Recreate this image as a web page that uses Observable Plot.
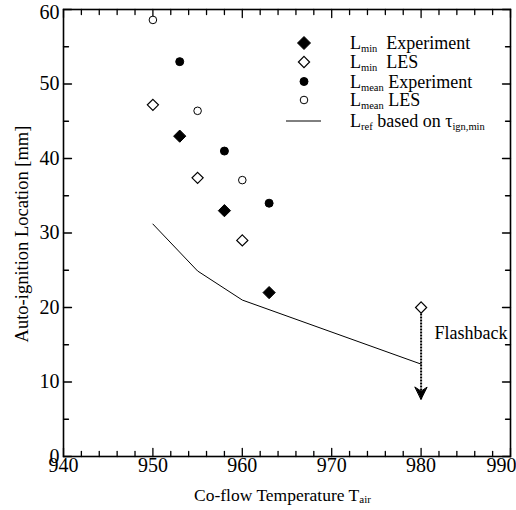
<!DOCTYPE html>
<html><head><meta charset="utf-8">
<script src="https://cdn.jsdelivr.net/npm/d3@7"></script>
<script src="https://cdn.jsdelivr.net/npm/@observablehq/plot@0.6"></script>
<style>
body{margin:0;background:#fff;}
#chart{position:relative;width:516px;height:510px;}
</style></head><body><div id="chart"></div>
<script>
// ---- data ----
const lminExpT = [953, 958, 963];
const lminExpL = [43, 33, 22];
const lminLesT = [950, 955, 960, 980];
const lminLesL = [47.2, 37.4, 29.0, 20.0];
const lmeanExpT = [953, 958, 963];
const lmeanExpL = [53.0, 41.0, 34.0];
const lmeanLesT = [950, 955, 960];
const lmeanLesL = [58.6, 46.4, 37.1];
const lrefT = [950, 955, 960, 980];
const lrefL = [31.2, 24.9, 21.0, 12.4];
const flashT = [980];
const flashFrom = [20.0];
const flashTo = [7.7];
const flashLabel = ["Flashback"];
const flashLabelT = [981.5];
const flashLabelL = [16.6];
const xTicks = [940, 950, 960, 970, 980, 990];
const yTicks = [0, 10, 20, 30, 40, 50, 60];
const xMinor = [942,944,946,948,952,954,956,958,962,964,966,968,972,974,976,978,982,984,986,988];
const yMinor = [5, 15, 25, 35, 45, 55];

const zip = (xs, ys) => xs.map((x, i) => ({x, y: ys[i]}));
const serif = "'Times New Roman', 'Liberation Serif', Times, serif";
const tickShape = {draw(ctx, l) { ctx.moveTo(0, 0); ctx.lineTo(0, -l); }};
const headShape = {draw(ctx, l) { ctx.moveTo(0, -l); ctx.lineTo(-6, 0); ctx.lineTo(0, -4); ctx.lineTo(6, 0); ctx.closePath(); }};
const flash = flashT.map((x, i) => ({x, y1: flashFrom[i], y2: flashTo[i]}));

function ticks(vals, anchor, rotate, len) {
  const ch = (anchor === "bottom" || anchor === "top") ? {x: d => d} : {y: d => d};
  return Plot.vector(vals, {...ch, frameAnchor: anchor, rotate, length: len, anchor: "start", shape: tickShape, stroke: "#000", strokeWidth: 1.3});
}

const plot = Plot.plot({
  width: 516, height: 510,
  marginLeft: 63, marginRight: 6, marginTop: 9, marginBottom: 54,
  style: {fontFamily: serif, fontSize: "20px", color: "#000", background: "#fff", overflow: "visible"},
  x: {domain: [940, 990]},
  y: {domain: [0, 60]},
  marks: [
    Plot.axisX({ticks: xTicks.slice(0, -1), tickSize: 0, tickPadding: 1, label: null, fontSize: 20}),
    Plot.axisX({ticks: xTicks.slice(-1), tickSize: 0, tickPadding: 1, label: null, fontSize: 20, dx: -9}),
    Plot.axisY({ticks: yTicks.slice(0, -1), tickSize: 0, tickPadding: 4, label: null, fontSize: 20}),
    Plot.axisY({ticks: yTicks.slice(-1), tickSize: 0, tickPadding: 4, label: null, fontSize: 20, dy: 3}),
    ticks(xTicks, "bottom", 0, 8), ticks(xMinor, "bottom", 0, 5),
    ticks(xTicks, "top", 180, 8), ticks(xMinor, "top", 180, 5),
    ticks(yTicks, "left", 90, 8), ticks(yMinor, "left", 90, 5),
    ticks(yTicks, "right", 270, 8), ticks(yMinor, "right", 270, 5),
    Plot.line(zip(lrefT, lrefL), {x: "x", y: "y", stroke: "#000", strokeWidth: 1}),
    Plot.link(flash, {x1: "x", x2: "x", y1: "y1", y2: "y2", stroke: "#000", strokeWidth: 2, strokeDasharray: "2,1"}),
    Plot.vector(flash, {x: "x", y: "y2", rotate: 180, length: 12, anchor: "end", shape: headShape, fill: "#000", stroke: "#000", strokeWidth: 1}),
    Plot.dot(zip(lminExpT, lminExpL), {x: "x", y: "y", symbol: "diamond2", r: 5.5, fill: "#000", stroke: "#000", strokeWidth: 1}),
    Plot.dot(zip(lminLesT, lminLesL), {x: "x", y: "y", symbol: "diamond2", r: 5, fill: "#fff", stroke: "#000", strokeWidth: 1.2}),
    Plot.dot(zip(lmeanExpT, lmeanExpL), {x: "x", y: "y", symbol: "circle", r: 4, fill: "#000", stroke: "#000", strokeWidth: 1}),
    Plot.dot(zip(lmeanLesT, lmeanLesL), {x: "x", y: "y", symbol: "circle", r: 3.8, fill: "#fff", stroke: "#000", strokeWidth: 1}),
    Plot.text(flashLabel, {x: flashLabelT, y: flashLabelL, text: d => d, textAnchor: "start", fontSize: 18, fill: "#000"}),
    Plot.frame({stroke: "#000", strokeWidth: 1.6})
  ]
});
document.getElementById("chart").appendChild(plot);

// ---- legend and axis titles (SVG text with subscripts) ----
const svg = d3.select(plot);
const g = svg.append("g").attr("font-family", serif).attr("fill", "#000").attr("text-anchor", "start");
const legend = [
  {sym: "diamond", fill: "#000", main: "L", sub: "min", rest: "\u00a0\u00a0Experiment"},
  {sym: "diamond", fill: "#fff", main: "L", sub: "min", rest: "\u00a0\u00a0LES"},
  {sym: "circle", fill: "#000", main: "L", sub: "mean", rest: " Experiment"},
  {sym: "circle", fill: "#fff", main: "L", sub: "mean", rest: " LES"},
  {sym: "line", fill: "none", main: "L", sub: "ref", rest: " based on \u03c4", sub2: "ign,min"}
];
const rowY = [43, 62, 81.5, 100, 121];
legend.forEach((d, i) => {
  const y = rowY[i];
  if (d.sym === "diamond") {
    const s = d.fill === "#000" ? 6.5 : 5.6;
    g.append("path").attr("d", `M304,${y - s}L${304 + s},${y}L304,${y + s}L${304 - s},${y}Z`)
      .attr("fill", d.fill).attr("stroke", "#000").attr("stroke-width", d.fill === "#000" ? 1 : 1.2);
  } else if (d.sym === "circle") {
    g.append("circle").attr("cx", 304).attr("cy", y).attr("r", d.fill === "#000" ? 4 : 3.8)
      .attr("fill", d.fill).attr("stroke", "#000");
  } else {
    g.append("line").attr("x1", 286).attr("x2", 321).attr("y1", y).attr("y2", y).attr("stroke", "#000").attr("stroke-width", 1);
  }
  const t = g.append("text").attr("x", 350).attr("y", y + 6).attr("font-size", 18).attr("text-anchor", "start");
  t.append("tspan").text(d.main);
  t.append("tspan").attr("font-size", 10.5).attr("dy", 3).text(d.sub);
  t.append("tspan").attr("dy", -3).text(d.rest);
  if (d.sub2) t.append("tspan").attr("font-size", 10.5).attr("dy", 3).text(d.sub2);
});
// x title
const xt = g.append("text").attr("x", 194).attr("y", 501).attr("font-size", 17.5).attr("text-anchor", "start");
xt.append("tspan").text("Co-flow Temperature T");
xt.append("tspan").attr("font-size", 11).attr("dy", 2).text("air");
// y title
g.append("text").attr("transform", "translate(28,234) rotate(-90)").attr("text-anchor", "middle")
  .attr("font-size", 18.5).text("Auto-ignition Location [mm]");
</script>
</body></html>
